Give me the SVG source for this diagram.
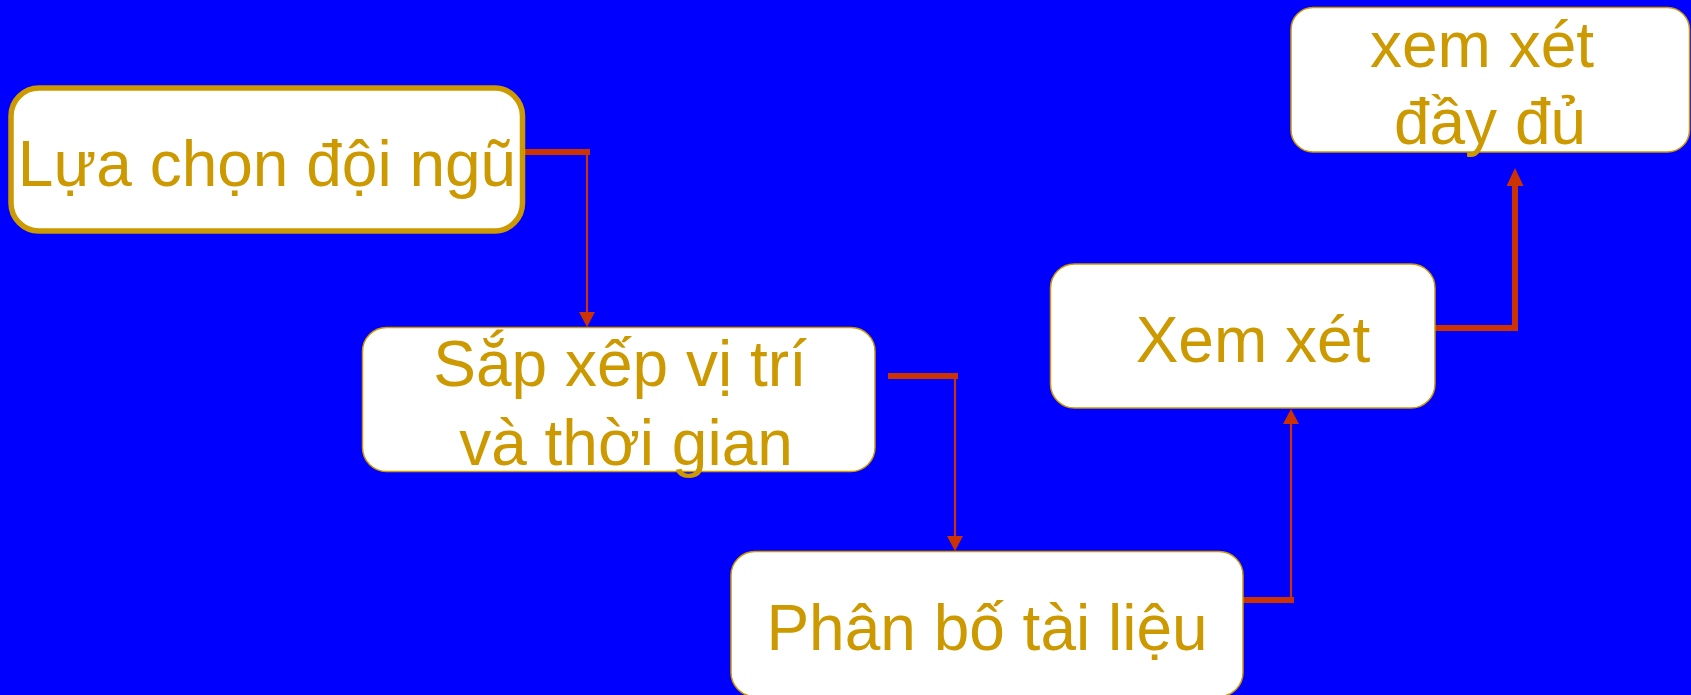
<svg xmlns="http://www.w3.org/2000/svg" width="1691" height="695" viewBox="0 0 1691 695">
  <style>
    .box { fill: #FFFFFF; stroke: #CC9900; stroke-width: 1.5; }
    .box-main { fill: #FFFFFF; stroke: #CC9900; stroke-width: 5.5; }
    .label { font-family: "Liberation Sans", Arial, sans-serif; font-size: 64px; fill: #CC9900; text-anchor: middle; }
    .stub { stroke: #CC3300; stroke-width: 6; fill: none; }
    .link { stroke: #CC3300; stroke-width: 2.2; fill: none; }
    .link-thick { stroke: #CC3300; stroke-width: 6; fill: none; stroke-linejoin: miter; }
  </style>
  <defs>
    <marker id="arrow" viewBox="0 0 15 16" refX="0" refY="8" markerWidth="15" markerHeight="16" markerUnits="userSpaceOnUse" orient="auto">
      <path d="M0,0 L15,8 L0,16 Z" fill="#CC3300"/>
    </marker>
    <marker id="arrow-lg" viewBox="0 0 18 17" refX="0" refY="8.5" markerWidth="18" markerHeight="17" markerUnits="userSpaceOnUse" orient="auto">
      <path d="M0,0 L18,8.5 L0,17 Z" fill="#CC3300"/>
    </marker>
  </defs>

  <rect width="1691" height="695" fill="#0000FF"/>

  <g id="connectors">
    <line class="stub" x1="520" y1="152" x2="590" y2="152"/>
    <line class="link" x1="587" y1="152" x2="587" y2="312" marker-end="url(#arrow)"/>

    <line class="stub" x1="888" y1="376" x2="958" y2="376"/>
    <line class="link" x1="955" y1="376" x2="955" y2="536" marker-end="url(#arrow)"/>

    <line class="stub" x1="1240" y1="600" x2="1294" y2="600"/>
    <line class="link" x1="1291" y1="600" x2="1291" y2="424" marker-end="url(#arrow)"/>

    <path class="link-thick" d="M1432,328 H1515 V186" marker-end="url(#arrow-lg)"/>
  </g>

  <g id="node-doi-ngu">
    <rect class="box-main" x="11" y="88" width="511.5" height="143" rx="28"/>
    <text class="label" x="267" y="186">Lựa chọn đội ngũ</text>
  </g>

  <g id="node-sap-xep">
    <rect class="box" x="362.5" y="327.5" width="512.5" height="144" rx="24"/>
    <text class="label" x="620" y="386">Sắp xếp vị trí</text>
    <text class="label" x="626" y="465">và thời gian</text>
  </g>

  <g id="node-phan-bo">
    <rect class="box" x="731" y="551.5" width="512" height="145" rx="24"/>
    <text class="label" x="987" y="650">Phân bố tài liệu</text>
  </g>

  <g id="node-xem-xet">
    <rect class="box" x="1050.5" y="264" width="384.5" height="144" rx="24"/>
    <text class="label" x="1253" y="362">Xem xét</text>
  </g>

  <g id="node-day-du">
    <rect class="box" x="1291" y="7.5" width="398.5" height="144.5" rx="22"/>
    <text class="label" x="1482" y="67">xem xét</text>
    <text class="label" x="1490" y="144">đầy đủ</text>
  </g>
</svg>
